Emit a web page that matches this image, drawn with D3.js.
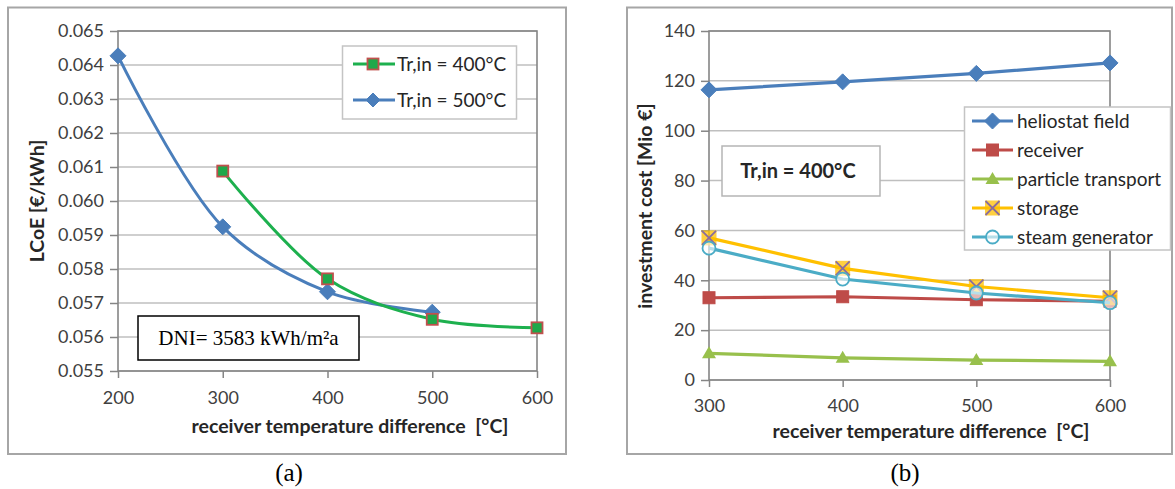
<!DOCTYPE html>
<html><head><meta charset="utf-8">
<script src="https://cdn.jsdelivr.net/npm/d3@7"></script>
<style>body{margin:0;background:#fff}svg{display:block}</style>
</head><body>
<svg id="c" width="1175" height="489"></svg>
<script>
// ---- data (a) ----
const lcoeXTicks = [200, 300, 400, 500, 600];
const lcoeYTicks = [0.055,0.056,0.057,0.058,0.059,0.060,0.061,0.062,0.063,0.064,0.065];
const x400 = [300, 400, 500, 600];
const lcoe400 = [0.06088, 0.05771, 0.05652, 0.05627];
const x500 = [200, 300, 400, 500];
const lcoe500 = [0.06427, 0.05924, 0.05733, 0.05673];
const seriesNamesA = ["Tr,in = 400°C", "Tr,in = 500°C"];
// ---- data (b) ----
const costXTicks = [300, 400, 500, 600];
const costYTicks = [0, 20, 40, 60, 80, 100, 120, 140];
const costX = [300, 400, 500, 600];
const heliostat = [116.4, 119.6, 123.0, 127.2];
const receiver = [33.0, 33.4, 32.2, 31.6];
const particle = [10.7, 8.9, 8.0, 7.5];
const storage = [57.0, 44.8, 37.5, 33.0];
const steamGen = [52.9, 40.5, 34.9, 31.0];
const seriesNamesB = ["heliostat field", "receiver", "particle transport", "storage", "steam generator"];

const svg = d3.select("#c");
svg.append("rect").attr("width",1175).attr("height",489).attr("fill","#fff");

const FONT = "Lato, 'Open Sans', sans-serif";
const SERIF = "'Liberation Serif','Times New Roman',serif";
const gridC = "#bfbfbf", axisC = "#858585", tickTxt = "#404040";

// outer frames
svg.append("rect").attr("x",8).attr("y",7.5).attr("width",558).attr("height",446.5)
  .attr("fill","none").attr("stroke","#a6a6a6").attr("stroke-width",2);
svg.append("rect").attr("x",627).attr("y",7.5).attr("width",545).attr("height",446.5)
  .attr("fill","none").attr("stroke","#a6a6a6").attr("stroke-width",2);

function frame(g, x, y, xt, yt, fmt, labelPad) {
  const [x0,x1] = x.range(), [y0,y1] = y.range();
  g.append("g").selectAll("line").data(yt).join("line")
    .attr("x1",x0).attr("x2",x1).attr("y1",d=>y(d)).attr("y2",d=>y(d))
    .attr("stroke",gridC).attr("stroke-width",1.5);
  g.append("rect").attr("x",x0).attr("y",y1).attr("width",x1-x0).attr("height",y0-y1)
    .attr("fill","none").attr("stroke",axisC).attr("stroke-width",1.6);
  const ya = d3.axisLeft(y).tickValues(yt).tickFormat(fmt).tickSize(8).tickPadding(6);
  const yg = g.append("g").attr("transform",`translate(${x0},0)`).call(ya);
  const xa = d3.axisBottom(x).tickValues(xt).tickFormat(d3.format("d")).tickSize(7).tickPadding(labelPad);
  const xg = g.append("g").attr("transform",`translate(0,${y0})`).call(xa);
  [yg,xg].forEach(a=>{
    a.select(".domain").remove();
    a.selectAll(".tick line").attr("stroke",axisC).attr("stroke-width",1.5);
    a.selectAll(".tick text").attr("fill",tickTxt).style("font-family",FONT).style("font-size","18px");
  });
}

// ================= (a) =================
const gA = svg.append("g");
const xA = d3.scaleLinear().domain([200,600]).range([118,537]);
const yA = d3.scaleLinear().domain([0.055,0.065]).range([371,31]);
frame(gA, xA, yA, lcoeXTicks, lcoeYTicks, d3.format(".3f"), 13);

const blue = "#4a7ebb", green = "#1db04e", red = "#c0504d";
const lineA = d3.line().curve(d3.curveCatmullRom.alpha(0.5));
const pts500 = x500.map((d,i)=>[xA(d), yA(lcoe500[i])]);
const pts400 = x400.map((d,i)=>[xA(d), yA(lcoe400[i])]);
gA.append("path").attr("d",lineA(pts500)).attr("fill","none").attr("stroke",blue).attr("stroke-width",3);
gA.append("path").attr("d",lineA(pts400)).attr("fill","none").attr("stroke",green).attr("stroke-width",3);

function diamond(g, cx, cy, s, c){
  g.append("path").attr("d",`M${cx},${cy-s}L${cx+s},${cy}L${cx},${cy+s}L${cx-s},${cy}Z`).attr("fill",c).attr("stroke",c).attr("stroke-width",1);
}
function sq(g, cx, cy, s, fill, stroke, sw){
  g.append("rect").attr("x",cx-s).attr("y",cy-s).attr("width",2*s).attr("height",2*s)
    .attr("fill",fill).attr("stroke",stroke).attr("stroke-width",sw);
}
pts500.forEach(p=>diamond(gA,p[0],p[1],8,blue));
pts400.forEach(p=>sq(gA,p[0],p[1],5.5,"#1fa84a",red,1.8));

// legend (a)
gA.append("rect").attr("x",342.5).attr("y",46).attr("width",174).attr("height",73)
  .attr("fill","#fff").attr("stroke","#c4c4c4").attr("stroke-width",1.5);
[[64,green,"sq"],[100,blue,"dia"]].forEach((e,i)=>{
  gA.append("line").attr("x1",353).attr("x2",395).attr("y1",e[0]).attr("y2",e[0]).attr("stroke",e[1]).attr("stroke-width",3);
  if(e[2]==="sq") sq(gA,373,e[0],5.5,"#1fa84a",red,1.8); else diamond(gA,373,e[0],7,blue);
  gA.append("text").attr("x",397).attr("y",e[0]).attr("dy","0.35em").text(seriesNamesA[i])
    .attr("fill","#262626").style("font-family",FONT).style("font-size","19px");
});

// DNI box
gA.append("rect").attr("x",138).attr("y",316).attr("width",221).attr("height",44)
  .attr("fill","#fff").attr("stroke","#000").attr("stroke-width",1.5);
gA.append("text").attr("x",248.5).attr("y",338).attr("dy","0.35em").attr("text-anchor","middle")
  .text("DNI= 3583 kWh/m²a").style("font-family",SERIF).style("font-size","21px").attr("fill","#000");

// titles (a)
gA.append("text").attr("x",350).attr("y",426).attr("dy","0.35em").attr("text-anchor","middle")
  .style("white-space","pre").text("receiver temperature difference  [°C]")
  .style("font-family",FONT).style("font-weight","bold").style("font-size","19.5px").attr("fill","#262626");
gA.append("text").attr("transform","translate(37,201) rotate(-90)").attr("dy","0.35em").attr("text-anchor","middle")
  .text("LCoE [€/kWh]").style("font-family",FONT).style("font-weight","bold").style("font-size","19.5px").attr("fill","#262626");
svg.append("text").attr("x",289).attr("y",472).attr("dy","0.35em").attr("text-anchor","middle").text("(a)")
  .style("font-family",SERIF).style("font-size","25px");

// ================= (b) =================
const gB = svg.append("g");
const xB = d3.scaleLinear().domain([300,600]).range([709,1110]);
const yB = d3.scaleLinear().domain([0,140]).range([380,31]);
frame(gB, xB, yB, costXTicks, costYTicks, d3.format("d"), 12);

const cols = {h:"#4a7ebb", r:"#be4b48", p:"#98c04c", s:"#ffc000", g:"#4bacc6"};
const lineB = d3.line();
const ser = [
  {v:heliostat, c:cols.h, m:"dia"},
  {v:receiver, c:cols.r, m:"sq"},
  {v:particle, c:cols.p, m:"tri"},
  {v:storage, c:cols.s, m:"x"},
  {v:steamGen, c:cols.g, m:"circ"}
];
function marker(g, type, cx, cy, c){
  if(type==="dia") diamond(g,cx,cy,8,c);
  else if(type==="sq") sq(g,cx,cy,6,c,c,1);
  else if(type==="tri") g.append("path").attr("d",`M${cx},${cy-7}L${cx+7},${cy+5}L${cx-7},${cy+5}Z`).attr("fill",c);
  else if(type==="x"){
    g.append("rect").attr("x",cx-7.5).attr("y",cy-7.5).attr("width",15).attr("height",15).attr("fill",c).attr("opacity",0.75);
    g.append("path").attr("d",`M${cx-7},${cy-7}L${cx+7},${cy+7}M${cx+7},${cy-7}L${cx-7},${cy+7}`).attr("stroke","#8a6d9e").attr("stroke-width",1.8);
  } else if(type==="circ"){
    g.append("circle").attr("cx",cx).attr("cy",cy).attr("r",6.5).attr("fill","rgba(255,255,255,0.6)").attr("stroke",c).attr("stroke-width",1.8);
  }
}
ser.forEach(s=>{
  const pts = costX.map((d,i)=>[xB(d), yB(s.v[i])]);
  gB.append("path").attr("d",lineB(pts)).attr("fill","none").attr("stroke",s.c).attr("stroke-width",3.2);
  pts.forEach(p=>marker(gB,s.m,p[0],p[1],s.c));
});

// legend (b)
gB.append("rect").attr("x",964.5).attr("y",107).attr("width",206).attr("height",143)
  .attr("fill","#fff").attr("stroke","#c4c4c4").attr("stroke-width",1.5);
const legY = [121,150,179,208,237];
ser.forEach((s,i)=>{
  gB.append("line").attr("x1",972).attr("x2",1013).attr("y1",legY[i]).attr("y2",legY[i]).attr("stroke",s.c).attr("stroke-width",3);
  marker(gB,s.m,992.5,legY[i],s.c);
  gB.append("text").attr("x",1017).attr("y",legY[i]).attr("dy","0.35em").text(seriesNamesB[i])
    .attr("fill","#262626").style("font-family",FONT).style("font-size","19px");
});

// Tr,in box
gB.append("rect").attr("x",722).attr("y",146).attr("width",158).attr("height",50)
  .attr("fill","#fff").attr("stroke","#b5b5b5").attr("stroke-width",1.5);
gB.append("text").attr("x",798).attr("y",171).attr("dy","0.35em").attr("text-anchor","middle").text("Tr,in = 400°C")
  .style("font-family",FONT).style("font-weight","bold").style("font-size","20px").attr("fill","#262626");

// titles (b)
gB.append("text").attr("x",931).attr("y",431).attr("dy","0.35em").attr("text-anchor","middle")
  .style("white-space","pre").text("receiver temperature difference  [°C]")
  .style("font-family",FONT).style("font-weight","bold").style("font-size","19.5px").attr("fill","#262626");
gB.append("text").attr("transform","translate(645,206) rotate(-90)").attr("dy","0.35em").attr("text-anchor","middle")
  .text("investment cost [Mio €]").style("font-family",FONT).style("font-weight","bold").style("font-size","19.5px").attr("fill","#262626");
svg.append("text").attr("x",905).attr("y",472).attr("dy","0.35em").attr("text-anchor","middle").text("(b)")
  .style("font-family",SERIF).style("font-size","25px");
</script>
</body></html>
